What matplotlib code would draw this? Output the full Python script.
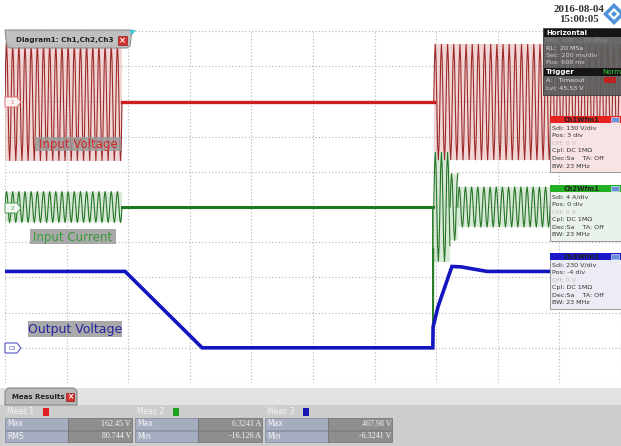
import numpy as np
import matplotlib.pyplot as plt
from matplotlib.patches import Rectangle, Polygon

W, H = 621, 446

# screen: 10 x 10 divisions, 200 ms/div
t_end = 2000
period = 20  # ms, 50 Hz mains
cycle_shape = [0.0, 0.71, 1.0, 0.71, 0.0, -0.71, -1.0, -0.71]

# Ch1 input voltage (screen divisions)
ch1_level = 2.98
ch1_ac = [(0, 380, 1.66), (1392, 2000, 1.64)]
ch1_flat = (380, 1392)

# Ch2 input current (screen divisions)
ch2_level = 0.0
ch2_ac = [(0, 380, 0.44), (1392, 1445, 1.55), (1445, 1470, 0.95), (1470, 2000, 0.57)]
ch2_flat = (380, 1389)
ch2_spike_t = [1389, 1390, 1391]
ch2_spike_v = [0.0, -4.0, -1.2]

# Ch3 output voltage (screen divisions)
ch3_t = [0, 390, 640, 1389, 1390, 1406, 1451, 1480, 1565, 2000]
ch3_v = [-1.83, -1.83, -4.0, -4.0, -3.4, -2.83, -1.69, -1.70, -1.83, -1.83]

# measurement table
meas_names = ['Meas 1', 'Meas 2', 'Meas 3']
meas_colors = ['#e02020', '#20a020', '#1818b0']
meas_rows = [['Max', 'RMS'], ['Max', 'Min'], ['Max', 'Min']]
meas_vals = [['162.45 V', '80.744 V'], ['6.3241 A', '-16.126 A'], ['467.98 V', '-6.3241 V']]

# channel info boxes
ch_titles = ['Ch1Wfm1', 'Ch2Wfm1', 'Ch3Wfm1']
ch_head = ['#e52420', '#22b022', '#1a1ac8']
ch_body = ['#f7e3e3', '#eaf3ea', '#ececf4']
ch_lines = [['Sdi: 130 V/div', 'Pos: 3 div', 'Off: 0 V', 'Cpl: DC 1M\u03a9', 'Dec:Sa    TA: Off', 'BW: 23 MHz'],
            ['Sdi: 4 A/div', 'Pos: 0 div', 'Off: 0 A', 'Cpl: DC 1M\u03a9', 'Dec:Sa    TA: Off', 'BW: 23 MHz'],
            ['Sdi: 230 V/div', 'Pos: -4 div', 'Off: 0 V', 'Cpl: DC 1M\u03a9', 'Dec:Sa    TA: Off', 'BW: 23 MHz']]
ch_box_y = [116, 185, 253]


def ac_trace(t0, t1, amp, level):
    n = int(np.ceil((t1 - t0) / period))
    t = t0 + np.arange(n * len(cycle_shape) + 1) * period / len(cycle_shape)
    y = level + amp * np.array(cycle_shape * (n + 1))[:len(t)]
    keep = t <= t1
    return t[keep], y[keep]


fig = plt.figure(figsize=(W / 100, H / 100), dpi=100)
fig.patch.set_facecolor('white')

ax = fig.add_axes([5 / W, 1 - 383 / H, 616 / W, 352 / H])
ax.set_xlim(0, t_end)
ax.set_ylim(-5, 5)
ax.set_xticks(np.arange(0, 2001, 200))
ax.set_yticks(np.arange(-5, 6, 1))
ax.grid(True, color='#b5b5b5', linestyle=(0, (1, 2)), linewidth=0.8)
ax.tick_params(length=0, labelbottom=False, labelleft=False)
for s in ax.spines.values():
    s.set_visible(False)

# Ch1
for t0, t1, a in ch1_ac:
    ax.fill_between([t0, t1], ch1_level - a, ch1_level + a, color='#f2d6d6', lw=0)
    tt, yy = ac_trace(t0, t1, a, ch1_level)
    ax.plot(tt, yy, color='#9c2a2a', lw=0.8)
ax.plot(ch1_flat, [ch1_level, ch1_level], color='#cc1f1f', lw=2.4)

# Ch2
for t0, t1, a in ch2_ac:
    ax.fill_between([t0, t1], ch2_level - a, ch2_level + a, color='#d8e9d8', lw=0)
    tt, yy = ac_trace(t0, t1, a, ch2_level)
    ax.plot(tt, yy, color='#267526', lw=0.8)
ax.plot(ch2_flat, [ch2_level, ch2_level], color='#1f7a1f', lw=2.2)
ax.plot(ch2_spike_t, ch2_spike_v, color='#2a7d2a', lw=1.2)

# Ch3
ax.plot(ch3_t, ch3_v, color='#1414c0', lw=2.6, solid_joinstyle='miter')

# overlay in pixel coordinates
ov = fig.add_axes([0, 0, 1, 1], zorder=5)
ov.set_xlim(0, W)
ov.set_ylim(H, 0)
ov.axis('off')
ov.patch.set_alpha(0)

# channel markers on the left
for y, c, lab in [(102, '#e07070', '1'), (208, '#50a050', '2'), (348, '#4040c0', 'C3')]:
    ov.add_patch(Polygon([(5, y - 5), (17, y - 5), (21, y), (17, y + 5), (5, y + 5)],
                         closed=True, fc='white', ec=c, lw=0.8, alpha=0.9))
    ov.text(12, y, lab, color=c, fontsize=4, ha='center', va='center')

# trace labels
for x0, y0, w, h, txt, c, fs in [(35, 137, 86, 14, 'Input Voltage', '#d42a2a', 8.5),
                                 (30, 229, 86, 15, 'Input Current', '#3a9a3a', 8.5),
                                 (28, 321, 94, 16, 'Output Voltage', '#2626a0', 9)]:
    ov.add_patch(Rectangle((x0, y0), w, h, fc='#9a9a9a', ec='none', alpha=0.85))
    ov.text(x0 + w / 2, y0 + h / 2 + 0.5, txt, color=c, fontsize=fs, ha='center', va='center')

# diagram tab
ov.add_patch(Polygon([(5, 30), (132, 30), (130, 46), (127, 48), (10, 48), (7, 46)],
                     closed=True, fc='#bdbdbd', ec='#8a8a8a', lw=0.8, alpha=0.95))
ov.text(16, 40, 'Diagram1: Ch1,Ch2,Ch3', fontsize=5.2, fontweight='bold', color='#222222', va='center')
ov.add_patch(Rectangle((118, 36), 9, 9, fc='#d83030', ec='#902020', lw=0.5))
ov.text(122.5, 40.5, '\u00d7', color='white', fontsize=6, ha='center', va='center', fontweight='bold')
ov.add_patch(Polygon([(129, 30), (136, 30), (132, 35)], closed=True, fc='#40c8d8', ec='none'))

# date and logo
ov.text(579, 9, '2016-08-04', fontsize=7.8, fontweight='bold', family='Liberation Serif',
        color='#333333', ha='center', va='center')
ov.text(579, 19, '15:00:05', fontsize=7.8, fontweight='bold', family='Liberation Serif',
        color='#333333', ha='center', va='center')
ov.add_patch(Polygon([(614, 3), (625, 14), (614, 25), (603, 14)], closed=True, fc='#4f93d8', ec='none'))
ov.add_patch(Polygon([(614, 8), (620, 14), (614, 20), (608, 14)], closed=True, fc='white', ec='none'))
ov.add_patch(Polygon([(614, 11), (617, 14), (614, 17), (611, 14)], closed=True, fc='#4f93d8', ec='none'))

# horizontal / trigger panel
ov.add_patch(Rectangle((543, 28), 80, 67, fc='#5c5c5c', ec='#333333', lw=0.6, alpha=0.92))
ov.add_patch(Rectangle((544, 29), 79, 8, fc='#151515', ec='none'))
ov.text(546, 33, 'Horizontal', color='white', fontsize=5, fontweight='bold', va='center')
hz_lines = [('Pos: 100 ... 10 MSa', '#8a8a8a'), ('RL:  20 MSa', '#dddddd'),
            ('Sec: 200 ms/div', '#cfcfcf'), ('Pos: 608 ms', '#cfcfcf')]
for i, (txt, c) in enumerate(hz_lines):
    ov.text(546, 41 + i * 7, txt, color=c, fontsize=4.6, va='center')
ov.add_patch(Rectangle((544, 68), 79, 8, fc='#151515', ec='none'))
ov.text(546, 72, 'Trigger', color='white', fontsize=5, fontweight='bold', va='center')
ov.text(621, 72, 'Norm', color='#33cc33', fontsize=5, va='center', ha='right')
ov.text(546, 80, 'A:   Timeout', color='#dddddd', fontsize=4.6, va='center')
ov.add_patch(Rectangle((604, 77), 12, 6, fc='#c02020', ec='none'))
ov.text(546, 88, 'Lvl: 45.53 V', color='#dddddd', fontsize=4.6, va='center')

# channel boxes
for i in range(3):
    y0 = ch_box_y[i]
    ov.add_patch(Rectangle((550, y0), 73, 56, fc=ch_body[i], ec='#999999', lw=0.7))
    ov.add_patch(Rectangle((550, y0), 73, 7, fc=ch_head[i], ec='none'))
    ov.text(582, y0 + 3.6, ch_titles[i], fontsize=4.8, fontweight='bold', color='#222222',
            ha='center', va='center')
    ov.add_patch(Rectangle((611, y0 + 1.2), 8, 4.6, fc='#6a8ee0', ec='white', lw=0.4))
    for j, txt in enumerate(ch_lines[i]):
        c = '#bbbbbb' if j == 2 else '#333333'
        ov.text(552, y0 + 12 + j * 7.6, txt, fontsize=4.6, color=c, va='center')

# bottom tick strip
ov.add_patch(Rectangle((0, 383), W, 5, fc='white', ec='none'))

# meas results panel
ov.add_patch(Rectangle((0, 388), W, 58, fc='#e3e3e3', ec='none'))
ov.add_patch(Rectangle((0, 405), W, 41, fc='#cdcdcd', ec='none'))
ov.add_patch(Polygon([(5, 405), (5, 391), (8, 388), (74, 388), (77, 391), (77, 405)],
                     closed=True, fc='#b9b9b9', ec='#8a8a8a', lw=0.8))
ov.text(12, 397, 'Meas Results', fontsize=5, fontweight='bold', color='#222222', va='center')
ov.add_patch(Rectangle((66, 393), 8, 8, fc='#d83030', ec='#902020', lw=0.5))
ov.text(70, 397, '\u00d7', color='white', fontsize=5.5, ha='center', va='center', fontweight='bold')

grp_x = [5, 135, 265]
for g in range(3):
    x0 = grp_x[g]
    ov.text(x0 + 2, 412, meas_names[g], fontsize=5.5, color='#f4f4f4', va='center')
    ov.add_patch(Rectangle((x0 + 38, 408), 6, 8, fc=meas_colors[g], ec='none'))
    for r in range(2):
        y0 = 418 + r * 12.5
        ov.add_patch(Rectangle((x0, y0), 63, 11.5, fc='#a6adc0', ec='#7f8699', lw=0.5))
        ov.add_patch(Rectangle((x0 + 63, y0), 64, 11.5, fc='#8e8e8e', ec='#6f6f6f', lw=0.5))
        ov.text(x0 + 2, y0 + 6, meas_rows[g][r], fontsize=5.5, color='#f4f4f4', va='center')
        ov.text(x0 + 126, y0 + 6, meas_vals[g][r], fontsize=5.8, color='#f4f4f4',
                va='center', ha='right', family='Liberation Serif')

fig.savefig('out.png', dpi=100)
